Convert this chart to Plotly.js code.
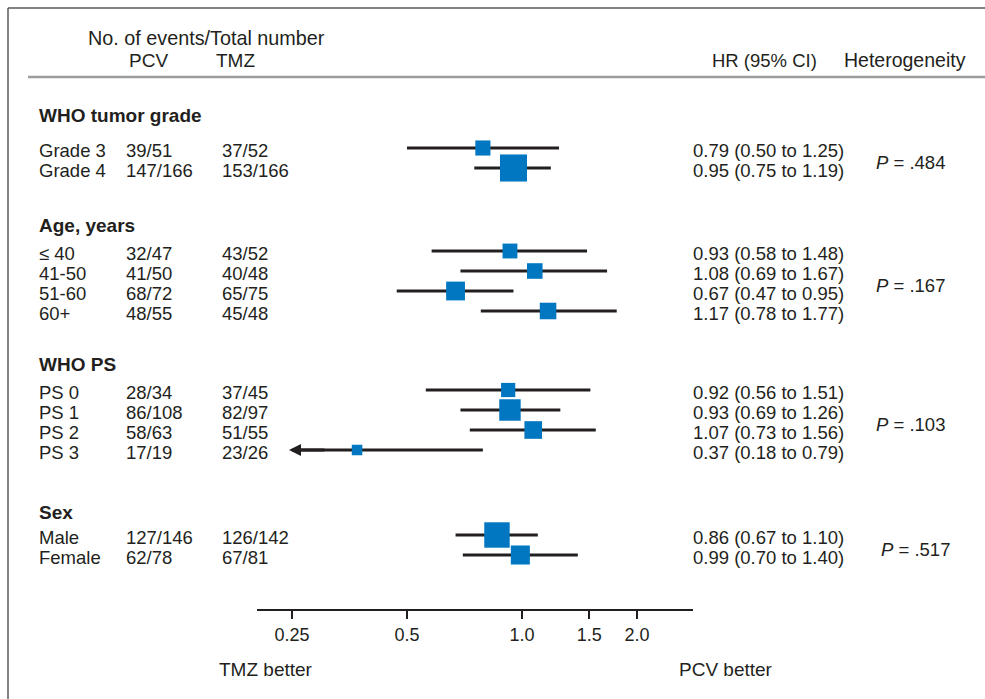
<!DOCTYPE html>
<html><head><meta charset="utf-8">
<script src="https://cdn.plot.ly/plotly-3.0.1.min.js"></script>
<style>html,body{margin:0;padding:0;background:#fff}</style>
</head><body><div id="chart" style="width:985px;height:699px"></div>
<script>
// ---------------- DATA ----------------
const groupNames = ['WHO tumor grade', 'Age, years', 'WHO PS', 'Sex'];
const groupOf = [0, 0, 1, 1, 1, 1, 2, 2, 2, 2, 3, 3];
const subgroups = ['Grade 3', 'Grade 4', '≤ 40', '41-50', '51-60', '60+', 'PS 0', 'PS 1', 'PS 2', 'PS 3', 'Male', 'Female'];
const pcvEvents = [39, 147, 32, 41, 68, 48, 28, 86, 58, 17, 127, 62];
const pcvTotal  = [51, 166, 47, 50, 72, 55, 34, 108, 63, 19, 146, 78];
const tmzEvents = [37, 153, 43, 40, 65, 45, 37, 82, 51, 23, 126, 67];
const tmzTotal  = [52, 166, 52, 48, 75, 48, 45, 97, 55, 26, 142, 81];
const hr     = [0.79, 0.95, 0.93, 1.08, 0.67, 1.17, 0.92, 0.93, 1.07, 0.37, 0.86, 0.99];
const ciLow  = [0.50, 0.75, 0.58, 0.69, 0.47, 0.78, 0.56, 0.69, 0.73, 0.18, 0.67, 0.70];
const ciHigh = [1.25, 1.19, 1.48, 1.67, 0.95, 1.77, 1.51, 1.26, 1.56, 0.79, 1.10, 1.40];
const pHeterogeneity = [0.484, 0.167, 0.103, 0.517];
const tickValues = [0.25, 0.5, 1.0, 1.5, 2.0];
const tickLabels = ['0.25', '0.5', '1.0', '1.5', '2.0'];

// ---------------- LAYOUT / STYLE ----------------
const W = 985, H = 699;
const FONT = '"Liberation Sans", Arial, Helvetica, sans-serif';
const INK = '#231f20';
const BLUE = '#0077c0';
const groupHeaderY = [115, 225, 364, 512];
const groupFirstRowY = [148, 251, 390, 535];
const rowStep = 20;
const textDrop = 2;
const pxPerDoubling = 115, oneAtPx = 522;
const axisLeftPx = 257, axisRightPx = 693, axisPx = 610;
const valAt = px => Math.pow(2, (px - oneAtPx) / pxPerDoubling);
const arrowClip = valAt(289);
const L = Math.log10;

const rowY = subgroups.map((s, i) => {
  const g = groupOf[i];
  const k = groupOf.slice(0, i).filter(v => v === g).length;
  return groupFirstRowY[g] + k * rowStep;
});

// CI lines
const lx = [], ly = [];
const ann = [];
subgroups.forEach((s, i) => {
  if (ciLow[i] < arrowClip) {
    lx.push(arrowClip * 1.04, ciHigh[i], null);
    ly.push(rowY[i], rowY[i], null);
    ann.push({x: L(arrowClip), y: rowY[i], ax: L(arrowClip * 1.25), ay: rowY[i],
      xref: 'x', yref: 'y', axref: 'x', ayref: 'y', text: '', showarrow: true,
      arrowhead: 2, arrowsize: 0.8, arrowwidth: 3, arrowcolor: INK, standoff: 0, startstandoff: 0});
  } else {
    lx.push(ciLow[i], ciHigh[i], null);
    ly.push(rowY[i], rowY[i], null);
  }
});

// box size from inverse standard error
const boxSize = subgroups.map((s, i) => {
  const se = (Math.log(ciHigh[i]) - Math.log(ciLow[i])) / (2 * 1.96);
  return 3 + 2.835 / se;
});

const txt = (text, px, y, size, extra) => Object.assign({
  text: text, x: px / W, xref: 'paper', y: y, yref: 'y', xanchor: 'left', yanchor: 'middle',
  showarrow: false, font: {family: FONT, size: size, color: INK}
}, extra || {});

// headers
ann.push(txt('No. of events/Total number', 86, 38, 19.8));
ann.push(txt('PCV', 127, 60, 19));
ann.push(txt('TMZ', 214, 60, 19));
ann.push(txt('HR (95% CI)', 710, 60, 18.5));
ann.push(txt('Heterogeneity', 842, 60, 19.5));

groupNames.forEach((g, gi) => {
  ann.push(txt('<b>' + g + '</b>', 37, groupHeaderY[gi], 19));
  const ys = rowY.filter((y, i) => groupOf[i] === gi);
  const mid = (Math.min(...ys) + Math.max(...ys)) / 2 + 4;
  const pStr = pHeterogeneity[gi].toFixed(3).replace(/^0/, '');
  ann.push(txt('<i>P</i> = ' + pStr, gi === 3 ? 879 : 874, mid, 18.5));
});

subgroups.forEach((s, i) => {
  const y = rowY[i] + textDrop;
  ann.push(txt(s, 37, y, 18.5));
  ann.push(txt(pcvEvents[i] + '/' + pcvTotal[i], 124, y, 18.5));
  ann.push(txt(tmzEvents[i] + '/' + tmzTotal[i], 220, y, 18.5));
  ann.push(txt(hr[i].toFixed(2) + ' (' + ciLow[i].toFixed(2) + ' to ' + ciHigh[i].toFixed(2) + ')', 691, y, 18.5));
});

ann.push(txt('TMZ better', 266, 669, 19, {xanchor: 'center'}));
ann.push(txt('PCV better', 726, 669, 19, {xanchor: 'center'}));

const shapes = [
  // frame
  {type: 'line', xref: 'paper', yref: 'paper', x0: 8 / W, x1: 8 / W, y0: 0, y1: 1 - 8 / H, line: {color: '#5a5a5a', width: 1.5}},
  {type: 'line', xref: 'paper', yref: 'paper', x0: 8 / W, x1: 1, y0: 1 - 8 / H, y1: 1 - 8 / H, line: {color: '#5a5a5a', width: 1.5}},
  // header separator
  {type: 'line', xref: 'paper', yref: 'y', x0: 28 / W, x1: 1, y0: 77, y1: 77, line: {color: '#9d9d9d', width: 2.5}},
  // line of no effect
  {type: 'line', xref: 'x', yref: 'y', x0: L(1), x1: L(1), y0: 77, y1: axisPx, layer: 'below', line: {color: INK, width: 2}}
];

const traces = [
  {type: 'scatter', mode: 'lines', x: lx, y: ly, line: {color: INK, width: 3}, hoverinfo: 'skip', showlegend: false},
  {type: 'scatter', mode: 'markers', x: hr, y: rowY,
   marker: {symbol: 'square', size: boxSize, color: BLUE, opacity: 1, line: {width: 0}},
   showlegend: false, hoverinfo: 'x+y'}
];

const layout = {
  width: W, height: H,
  margin: {l: 0, r: 0, t: 0, b: 0, pad: 0},
  paper_bgcolor: '#fff', plot_bgcolor: 'rgba(0,0,0,0)',
  showlegend: false,
  font: {family: FONT, color: INK},
  xaxis: {
    type: 'log', domain: [axisLeftPx / W, axisRightPx / W],
    range: [L(valAt(axisLeftPx)), L(valAt(axisRightPx))],
    anchor: 'free', position: (H - axisPx) / H,
    showline: true, linecolor: INK, linewidth: 2,
    ticks: 'outside', ticklen: 8, tickwidth: 2, tickcolor: INK,
    tickvals: tickValues, ticktext: tickLabels,
    tickfont: {family: FONT, size: 18, color: INK},
    showgrid: false, zeroline: false, fixedrange: true
  },
  yaxis: {range: [H, 0], domain: [0, 1], visible: false, showgrid: false, zeroline: false, fixedrange: true},
  shapes: shapes,
  annotations: ann
};

Plotly.newPlot('chart', traces, layout, {displayModeBar: false, staticPlot: true});
</script>
</body></html>
